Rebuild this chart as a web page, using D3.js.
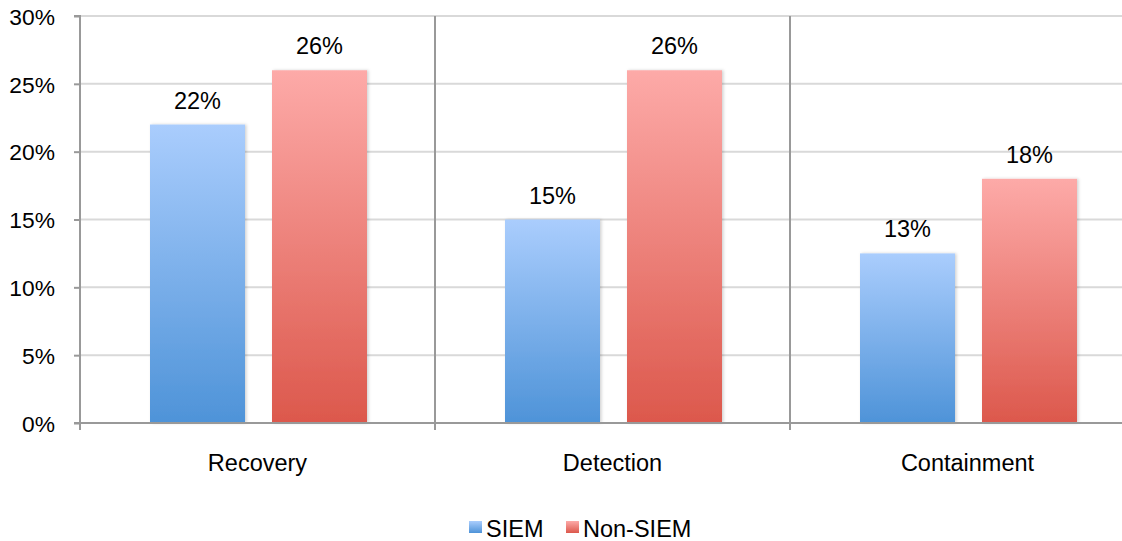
<!DOCTYPE html>
<html><head><meta charset="utf-8">
<script src="https://cdn.jsdelivr.net/npm/d3@7"></script>
<style>body{margin:0;background:#fff}svg{display:block}</style>
</head><body>
<svg id="c" width="1122" height="541"></svg>
<script>
const categories = ["Recovery", "Detection", "Containment"];
const series = ["SIEM", "Non-SIEM"];
const siemValues = [22, 15, 12.5];
const nonSiemValues = [26, 26, 18];
const yTicks = [0, 5, 10, 15, 20, 25, 30];

(function () {
const svg = d3.select("#c");
const font = "'Liberation Sans', Arial, sans-serif";
const pLeft = 80, pRight = 1145, pTop = 16, pBottom = 423;

const defs = svg.append("defs");
function grad(id, c1, c2) {
  const g = defs.append("linearGradient").attr("id", id).attr("x1", 0).attr("y1", 0).attr("x2", 0).attr("y2", 1);
  g.append("stop").attr("offset", "0%").attr("stop-color", c1);
  g.append("stop").attr("offset", "100%").attr("stop-color", c2);
}
grad("gS", "#aacdfd", "#4e93d8");
grad("gN", "#fdaaa8", "#dc584c");
const f = defs.append("filter").attr("id", "sh").attr("x", "-10%").attr("y", "-10%").attr("width", "130%").attr("height", "120%");
f.append("feDropShadow").attr("dx", 1.5).attr("dy", 0).attr("stdDeviation", 1.5).attr("flood-color", "#000").attr("flood-opacity", 0.18);

const y = d3.scaleLinear().domain([0, 30]).range([pBottom, pTop]);
const x0 = d3.scaleBand().domain(categories).range([pLeft, pRight]).paddingInner(0).paddingOuter(0);
const x1 = d3.scaleBand().domain(series).range([70, 287]).paddingInner(27 / 122);

// gridlines
svg.append("g").selectAll("line").data(yTicks.filter(t => t > 0)).join("line")
  .attr("x1", pLeft).attr("x2", 1122).attr("y1", d => y(d)).attr("y2", d => y(d))
  .attr("stroke", "#d9d9d9").attr("stroke-width", 2);

// category separators
svg.append("g").selectAll("line").data(categories.slice(1)).join("line")
  .attr("x1", d => x0(d)).attr("x2", d => x0(d)).attr("y1", pTop).attr("y2", pBottom + 7)
  .attr("stroke", "#999").attr("stroke-width", 2);

// bars
const data = categories.map((c, i) => ({ c, vals: [siemValues[i], nonSiemValues[i]] }));
const g = svg.append("g").selectAll("g").data(data).join("g")
  .attr("transform", d => `translate(${x0(d.c)},0)`);
g.selectAll("rect").data(d => d.vals.map((v, j) => ({ s: series[j], v }))).join("rect")
  .attr("x", d => x1(d.s)).attr("width", x1.bandwidth())
  .attr("y", d => y(d.v)).attr("height", d => pBottom - y(d.v))
  .attr("fill", d => d.s === "SIEM" ? "url(#gS)" : "url(#gN)")
  .attr("filter", "url(#sh)");
g.selectAll("text").data(d => d.vals.map((v, j) => ({ s: series[j], v }))).join("text")
  .attr("x", d => x1(d.s) + x1.bandwidth() / 2).attr("y", d => y(d.v) - 16)
  .attr("text-anchor", "middle").attr("font-family", font).attr("font-size", 23.5).attr("fill", "#000")
  .text(d => Math.round(d.v) + "%");

// y axis
const ya = svg.append("g").attr("transform", `translate(${pLeft},0)`)
  .call(d3.axisLeft(y).tickValues(yTicks).tickFormat(d => d + "%").tickSize(6).tickPadding(19));
ya.select(".domain").attr("stroke", "#999").attr("stroke-width", 2).attr("d", `M-6,${pTop}H0V${pBottom + 7}`);
ya.selectAll(".tick line").attr("stroke", "#999").attr("stroke-width", 2);
ya.selectAll(".tick text").attr("font-family", font).attr("font-size", 22.8).attr("fill", "#000").attr("dy", "0.36em");

// x axis line
svg.append("line").attr("x1", pLeft - 6).attr("x2", 1122).attr("y1", pBottom).attr("y2", pBottom)
  .attr("stroke", "#999").attr("stroke-width", 2);

// category labels
svg.append("g").selectAll("text").data(categories).join("text")
  .attr("x", d => x0(d) + x0.bandwidth() / 2).attr("y", 471)
  .attr("text-anchor", "middle").attr("font-family", font).attr("font-size", 23.5).attr("fill", "#000")
  .text(d => d);

// legend
const legendX = [469, 566];
const lg = svg.append("g").selectAll("g").data(series).join("g")
  .attr("transform", (d, i) => `translate(${legendX[i]},521)`);
lg.append("rect").attr("width", 13).attr("height", 12)
  .attr("fill", d => d === "SIEM" ? "url(#gS)" : "url(#gN)");
lg.append("text").attr("x", 17).attr("y", 15.5).attr("font-family", font).attr("font-size", 23.5).attr("fill", "#000").text(d => d);
})();
</script>
</body></html>
